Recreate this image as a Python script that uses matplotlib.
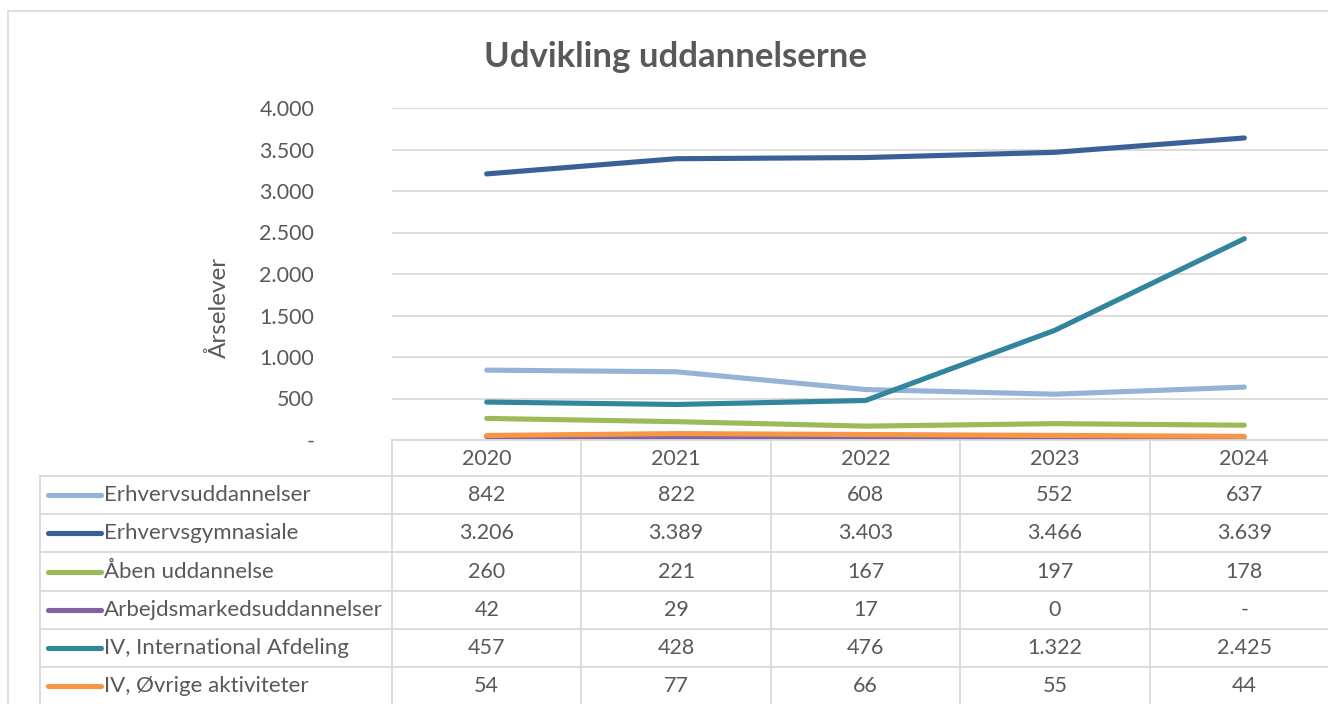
import matplotlib
matplotlib.use('Agg')
import matplotlib.pyplot as plt
from matplotlib.lines import Line2D
from matplotlib.patches import Rectangle
from matplotlib.transforms import blended_transform_factory
from matplotlib.ticker import FuncFormatter

plt.rcParams['font.family'] = ['Lato', 'DejaVu Sans']

years = ['2020', '2021', '2022', '2023', '2024']
erhvervsuddannelser = [842, 822, 608, 552, 637]
erhvervsgymnasiale = [3206, 3389, 3403, 3466, 3639]
aaben_uddannelse = [260, 221, 167, 197, 178]
arbejdsmarked = [42, 29, 17, 0.3, 0]
international = [457, 428, 476, 1322, 2425]
oevrige = [54, 77, 66, 55, 44]

series_names = ['Erhvervsuddannelser', 'Erhvervsgymnasiale', 'Åben uddannelse',
                'Arbejdsmarkedsuddannelser', 'IV, International Afdeling',
                'IV, Øvrige aktiviteter']
series_values = [erhvervsuddannelser, erhvervsgymnasiale, aaben_uddannelse,
                 arbejdsmarked, international, oevrige]
colors = ['#95B3D7', '#3A6196', '#9BBB59', '#8064A2', '#31859C', '#F79646']

TXT = '#595959'
GRID = '#D9D9D9'
W, H = 1328, 704
FS = 15.5


def fx(x):
    return x / W


def fy(y):
    return 1 - y / H


def fmt(v):
    if v == 0:
        return '-'
    return f'{round(v):,}'.replace(',', '.')


fig = plt.figure(figsize=(13.28, 7.04), dpi=100)

# outer chart frame
fig.patches.append(Rectangle((fx(8), fy(720)), fx(1400), fy(11) - fy(720),
                             transform=fig.transFigure, fill=False,
                             edgecolor=GRID, linewidth=1.2))

ax = fig.add_axes([fx(392), fy(440), fx(1339 - 392), fy(108) - fy(440)])
x = list(range(len(years)))
for name, vals, c in zip(series_names, series_values, colors):
    ax.plot(x, vals, color=c, linewidth=3.7, solid_capstyle='round', label=name)

ax.set_xlim(-0.5, len(years) - 0.5)
ax.set_ylim(0, 4000)
ax.set_yticks(range(0, 4001, 500))
ax.yaxis.set_major_formatter(FuncFormatter(lambda v, p: fmt(v)))
ax.grid(axis='y', color=GRID, linewidth=1.3)
ax.set_axisbelow(True)
ax.set_xticks([])
for s in ['top', 'right', 'left', 'bottom']:
    ax.spines[s].set_visible(False)
ax.tick_params(axis='y', length=0, pad=56, labelsize=FS, labelcolor=TXT)
ax.set_ylabel('Årselever', fontsize=17.5, color=TXT, va='center')
ax.yaxis.set_label_coords((219 - 392) / (1339 - 392), (440 - 307) / (440 - 108))

fig.text(fx(675), fy(57), 'Udvikling uddannelserne', ha='center', va='center',
         fontsize=25, fontweight='bold', color=TXT)

# data table below the plot
tr = blended_transform_factory(ax.transData, fig.transFigure)
header_top, header_bot = 440, 476
row_h = 38.2
n_rows = len(series_names)
table_bot = header_bot + n_rows * row_h
table_left = 40

for i in range(len(years) + 1):
    fig.add_artist(Line2D([i - 0.5, i - 0.5], [fy(header_top), fy(table_bot)],
                          transform=tr, color=GRID, linewidth=1.3))
fig.add_artist(Line2D([fx(table_left), fx(table_left)], [fy(header_bot), fy(table_bot)],
                      transform=fig.transFigure, color=GRID, linewidth=1.3))
fig.add_artist(Line2D([-0.5, len(years)], [fy(header_top), fy(header_top)],
                      transform=tr, color=GRID, linewidth=1.3))
for r in range(n_rows + 1):
    yy = fy(header_bot + r * row_h)
    fig.add_artist(Line2D([fx(table_left), fx(1400)], [yy, yy],
                          transform=fig.transFigure, color=GRID, linewidth=1.3))

for i, yr in enumerate(years):
    fig.text(i, fy((header_top + header_bot) / 2 + 1), yr, transform=tr,
             ha='center', va='center', fontsize=FS, color=TXT)

for r, (name, vals, c) in enumerate(zip(series_names, series_values, colors)):
    yc = fy(header_bot + (r + 0.5) * row_h)
    fig.add_artist(Line2D([fx(48), fx(101)], [yc, yc], transform=fig.transFigure,
                          color=c, linewidth=3.7, solid_capstyle='round'))
    fig.text(fx(104), yc, name, ha='left', va='center', fontsize=16, color=TXT)
    for i, v in enumerate(vals):
        fig.text(i, yc, fmt(v), transform=tr, ha='center', va='center',
                 fontsize=FS, color=TXT)

fig.savefig('out.png', dpi=100)
